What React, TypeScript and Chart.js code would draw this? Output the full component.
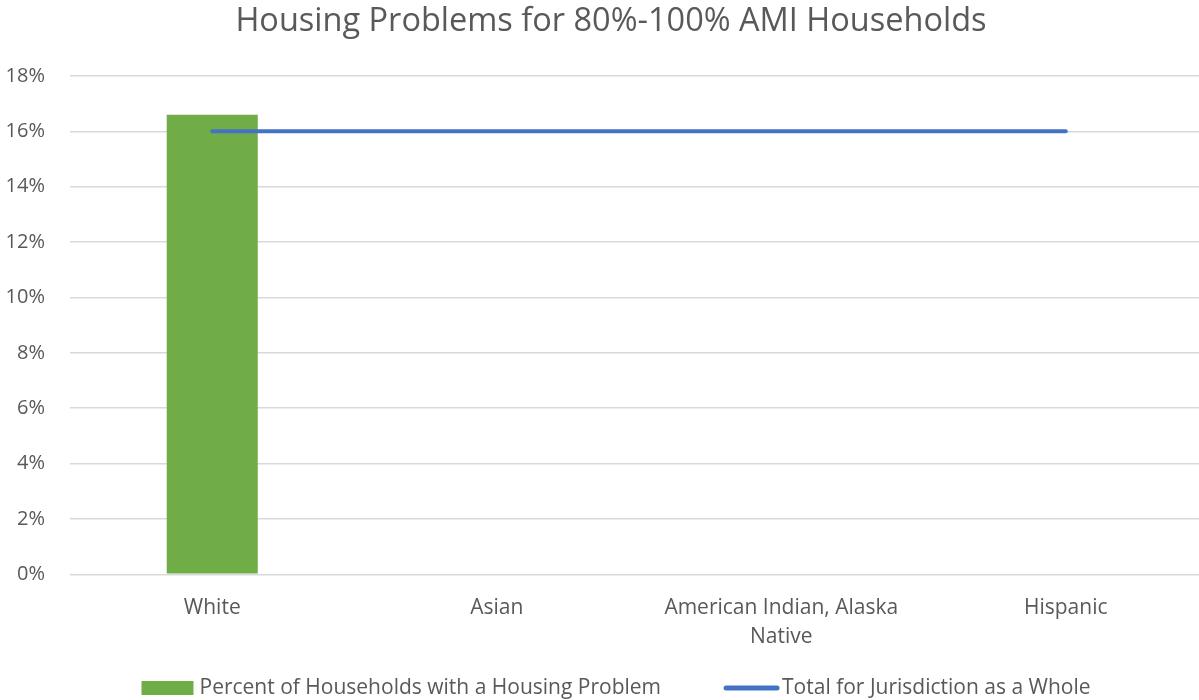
import React, { useEffect, useRef } from "react";
import { Chart, registerables } from "chart.js";

Chart.register(...registerables);

const categories: (string | string[])[] = ["White", "Asian", ["American Indian, Alaska", "Native"], "Hispanic"];
const percentWithProblem: number[] = [16.6, 0, 0, 0];
const jurisdictionTotal: number[] = [16, 16, 16, 16];
const titleText = "Housing Problems for 80%-100% AMI Households";
const barLabel = "Percent of Households with a Housing Problem";
const lineLabel = "Total for Jurisdiction as a Whole";

const FONT = "'Open Sans', 'Noto Sans', sans-serif";
const TEXT = "#595959";
const GREEN = "#70AD47";
const BLUE = "#4472C4";

const decorations = {
  id: "decorations",
  afterDraw(chart: any) {
    const ctx = chart.ctx as CanvasRenderingContext2D;
    const ds = chart.data.datasets;
    ctx.save();
    // title
    ctx.font = `32.5px ${FONT}`;
    ctx.textAlign = "center";
    ctx.textBaseline = "middle";
    ctx.fillStyle = TEXT;
    ctx.fillText(titleText, 611, 22);
    // legend
    ctx.textAlign = "left";
    ctx.font = `21px ${FONT}`;
    const w1 = ctx.measureText(ds[0].label).width;
    const w2 = ctx.measureText(ds[1].label).width;
    const total = 52 + 6 + w1 + 63 + 55 + 3 + w2;
    const cx = 616;
    const y = 688;
    let x = cx - total / 2;
    ctx.fillStyle = ds[0].backgroundColor;
    ctx.fillRect(x, y - 7, 52, 14);
    x += 58;
    ctx.fillStyle = TEXT;
    ctx.fillText(ds[0].label, x, y);
    x += w1 + 63;
    ctx.strokeStyle = ds[1].borderColor;
    ctx.lineWidth = 5;
    ctx.lineCap = "round";
    ctx.beginPath();
    ctx.moveTo(x + 2, y);
    ctx.lineTo(x + 53, y);
    ctx.stroke();
    x += 58;
    ctx.fillText(ds[1].label, x, y);
    ctx.restore();
  },
};

export default function App() {
  const ref = useRef<HTMLCanvasElement | null>(null);
  useEffect(() => {
    if (!ref.current) return;
    const chart = new Chart(ref.current, {
      type: "bar",
      data: {
        labels: categories as any,
        datasets: [
          {
            type: "bar",
            label: barLabel,
            data: percentWithProblem,
            backgroundColor: GREEN,
            borderWidth: 0,
            barPercentage: 0.32,
            categoryPercentage: 1,
            order: 1,
          },
          {
            type: "line",
            label: lineLabel,
            data: jurisdictionTotal,
            borderColor: BLUE,
            backgroundColor: BLUE,
            borderWidth: 4,
            borderCapStyle: "round",
            pointRadius: 0,
            fill: false,
            order: 0,
          } as any,
        ],
      },
      plugins: [decorations],
      options: {
        animation: false,
        responsive: false,
        layout: { padding: { left: 0, right: 0, top: 76, bottom: 37 } },
        plugins: {
          title: { display: false },
          legend: { display: false },
          tooltip: { enabled: false },
        },
        scales: {
          x: {
            grid: { display: false },
            border: { display: false },
            ticks: { color: TEXT, font: { family: FONT, size: 21, lineHeight: 1.35 }, maxRotation: 0, padding: 12 },
          },
          y: {
            min: 0,
            max: 18,
            grid: { color: "#D9D9D9", lineWidth: 1.5, drawTicks: false },
            border: { display: false },
            afterFit: (scale: any) => {
              scale.width = 70;
            },
            ticks: {
              stepSize: 2,
              color: TEXT,
              font: { family: FONT, size: 20 },
              padding: 25,
              callback: (v: any) => `${v}%`,
            },
          },
        },
      },
    });
    return () => chart.destroy();
  }, []);
  return (
    <div style={{ position: "fixed", left: 0, top: 0, width: 1199, height: 700, overflow: "hidden", background: "#fff" }}>
      <canvas ref={ref} width={1208} height={700} style={{ display: "block" }} />
    </div>
  );
}
